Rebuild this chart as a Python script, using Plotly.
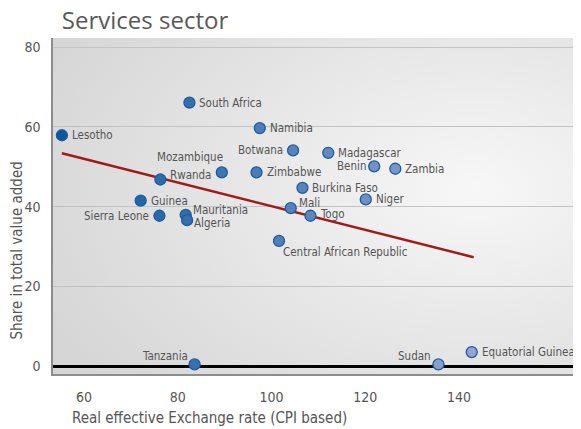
import plotly.graph_objects as go

# --- data
countries = ["Lesotho", "South Africa", "Namibia", "Botwana", "Mozambique",
             "Rwanda", "Zimbabwe", "Madagascar", "Benin", "Zambia",
             "Burkina Faso", "Niger", "Mali", "Togo",
             "Central African Republic", "Guinea", "Sierra Leone",
             "Mauritania", "Algeria", "Tanzania", "Sudan", "Equatorial Guinea"]
reer = [55.3, 82.5, 97.5, 104.6, 89.4, 76.3, 96.8, 112.1, 121.9, 126.4,
        106.6, 120.1, 104.1, 108.3, 101.6, 72.1, 76.1, 81.7, 82.0, 83.6,
        135.6, 142.7]
share = [57.9, 66.1, 59.7, 54.1, 48.6, 46.8, 48.6, 53.5, 50.1, 49.5,
         44.7, 41.8, 39.6, 37.7, 31.4, 41.5, 37.7, 37.9, 36.6, 0.4,
         0.4, 3.5]

trend_x = [55.3, 143.1]
trend_y = [53.4, 27.3]

x_ticks = [60, 80, 100, 120, 140]
y_ticks = [0, 20, 40, 60, 80]

# label placement: (xanchor, xshift, yshift)
label_pos = {
    "Botwana": ("right", -8, 0),
    "Mozambique": ("right", 3, 15),
    "Rwanda": ("left", 8, 4),
    "Benin": ("right", -6, 0),
    "Mali": ("left", 6, 5),
    "Togo": ("left", 8, 2),
    "Central African Republic": ("left", 2, -11),
    "Sierra Leone": ("right", -8, 0),
    "Mauritania": ("left", 5, 5),
    "Algeria": ("left", 5, -3),
    "Tanzania": ("right", -5, 8),
    "Sudan": ("right", -5, 8),
}

FONT = "Liberation Sans Narrow, DejaVu Sans Condensed, Roboto, sans-serif"
GREY = "#555555"

bg_svg = ("data:image/svg+xml;utf8,"
          "<svg xmlns='http://www.w3.org/2000/svg' width='100' height='100' "
          "preserveAspectRatio='none'><defs><radialGradient id='g' cx='0.8' "
          "cy='0.45' r='0.9'><stop offset='0' stop-color='%23f7f7f7'/>"
          "<stop offset='1' stop-color='%23d6d6d6'/></radialGradient></defs>"
          "<rect width='100' height='100' fill='url(%23g)'/></svg>")

fig = go.Figure()

fig.add_trace(go.Scatter(
    x=trend_x, y=trend_y, mode="lines",
    line=dict(color="#a01c1c", width=2.5), hoverinfo="skip"))

fig.add_trace(go.Scatter(
    x=reer, y=share, mode="markers", text=countries,
    marker=dict(size=11, color=reer,
                colorscale=[[0, "#0b579c"], [1, "#93a4d2"]],
                line=dict(color="#1f5c9e", width=1.3))))

for c, x, y in zip(countries, reer, share):
    anchor, dx, dy = label_pos.get(c, ("left", 8, 0))
    fig.add_annotation(x=x, y=y, text=c, showarrow=False,
                       xanchor=anchor, yanchor="middle",
                       xshift=dx, yshift=dy,
                       font=dict(family=FONT, size=11.5, color=GREY))

# axis titles placed as in the reference
fig.add_annotation(text="Real effective Exchange rate (CPI based)",
                   xref="paper", yref="paper", x=0.297, y=-0.131,
                   xanchor="center", yanchor="middle", showarrow=False,
                   font=dict(family=FONT, size=15, color=GREY))
fig.add_annotation(text="Share in total value added", textangle=-90,
                   xref="paper", yref="paper", x=-0.069, y=0.366,
                   xanchor="center", yanchor="middle", showarrow=False,
                   font=dict(family=FONT, size=15, color=GREY))

fig.add_layout_image(dict(source=bg_svg, xref="paper", yref="paper",
                          x=0, y=1, sizex=1, sizey=1, sizing="stretch",
                          layer="below"))

# page body has an 8px margin, so the figure starts 8px in
fig.update_layout(
    width=573, height=421, showlegend=False,
    margin=dict(l=45, r=0, t=30, b=55, autoexpand=False),
    paper_bgcolor="white", plot_bgcolor="rgba(0,0,0,0)",
    title=dict(text="Services sector", x=0.094, xref="container",
               xanchor="left", y=0.99, yanchor="top", automargin=False,
               font=dict(family="Open Sans, sans-serif", size=24,
                         color="#595959")),
    font=dict(family=FONT, color=GREY))

fig.update_xaxes(range=[53.4, 166], tickvals=x_ticks, showgrid=False,
                 zeroline=False, showline=True, linecolor="#8c8c8c",
                 linewidth=1.5, mirror=False, ticks="outside", ticklen=9,
                 tickcolor="rgba(0,0,0,0)", automargin=False,
                 tickfont=dict(family=FONT, size=14, color=GREY))
fig.update_yaxes(range=[-2, 82.3], tickvals=y_ticks, showgrid=True,
                 gridcolor="#c4c4c4", gridwidth=1,
                 zeroline=True, zerolinecolor="black", zerolinewidth=2.5,
                 showline=True, linecolor="#8c8c8c", linewidth=1.5,
                 mirror=True, ticks="outside", ticklen=8,
                 tickcolor="rgba(0,0,0,0)", automargin=False,
                 tickfont=dict(family=FONT, size=14, color=GREY))

fig.write_html("out.html")
